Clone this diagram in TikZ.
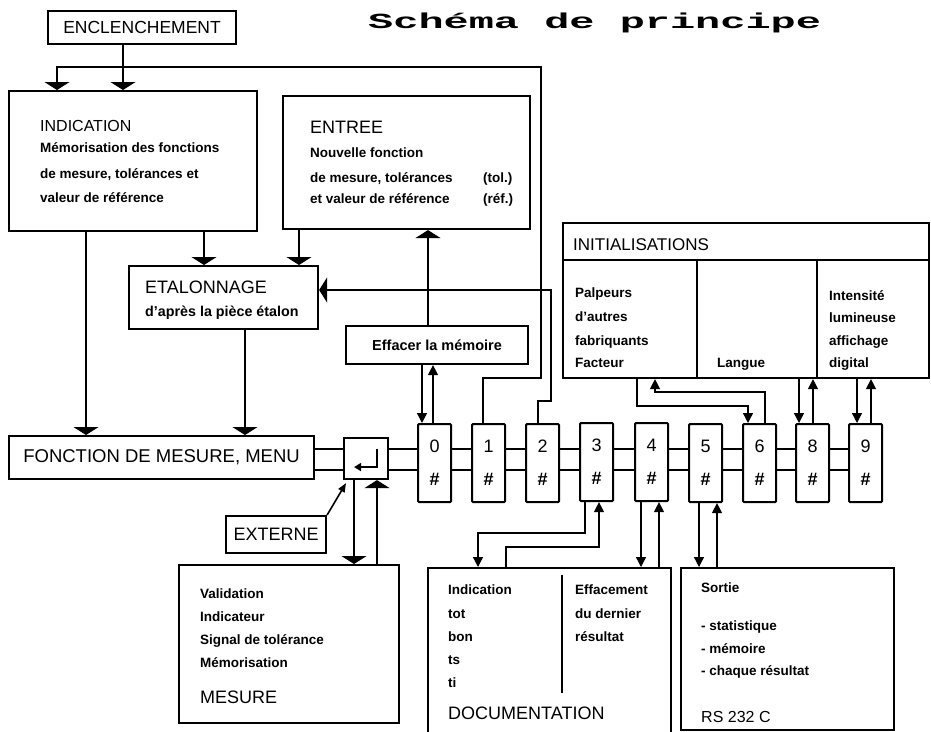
\documentclass[tikz,border=0pt]{standalone}
\usepackage{fontspec}
\setmainfont{Liberation Sans}
\newfontfamily\titlefont[FakeStretch=1.95]{Liberation Mono}
\usetikzlibrary{arrows.meta,calc}
\newcommand\bodyf{\bfseries\fontsize{13.5}{16}\selectfont}
\newcommand\capf[1]{\fontsize{#1}{#1}\selectfont}
\begin{document}
\begin{tikzpicture}[x=1pt,y=-1pt,
  box/.style={draw, line width=2.1pt, fill=white, anchor=north west, inner sep=0pt},
  keybox/.style={box, minimum width=33pt, minimum height=78pt, rounded corners=1pt, align=center,
    font=\fontsize{18}{33}\selectfont},
  wire/.style={line width=1.3pt},
  bigtip/.style={-{Triangle[width=25pt,length=8pt]}},
  smalltip/.style={-{Triangle[width=10pt,length=10pt]}},
  txt/.style={anchor=base west, inner sep=0pt, font=\bodyf},
  captxt/.style={anchor=base west, inner sep=0pt, font=\capf{18}}
]
\useasboundingbox (0,0) rectangle (931,731);

% title
\node[anchor=base west, inner sep=0pt, font=\titlefont\bfseries\fontsize{21.5}{24}\selectfont] (title) at (368,28) {Schéma de principe};

% boxes
\node[box, minimum width=188pt, minimum height=33pt, font=\capf{17.5}] (encl) at (47,10) {ENCLENCHEMENT};
\node[box, minimum width=248pt, minimum height=140pt] (indic) at (8,90) {};
\node[box, minimum width=247pt, minimum height=133pt] (entree) at (282,95) {};
\node[box, minimum width=189pt, minimum height=63pt] (etal) at (128,265) {};
\node[box, minimum width=182pt, minimum height=38pt, font=\bfseries\fontsize{14.5}{16}\selectfont] (eff) at (345,325) {Effacer la mémoire};
\node[box, minimum width=366pt, minimum height=155pt] (init) at (562,222) {};
\node[box, minimum width=305pt, minimum height=43pt, font=\capf{18.5}] (fonc) at (8,435) {FONCTION DE MESURE, MENU};
\node[box, minimum width=100pt, minimum height=37pt, font=\capf{18}] (ext) at (225,515) {EXTERNE};
\node[box, minimum width=220pt, minimum height=158pt] (mes) at (178,564) {};
\node[box, minimum width=243pt, minimum height=167pt] (doc) at (427,567) {};
\node[box, minimum width=213pt, minimum height=162pt] (rs) at (680,567) {};

% keys
\node[box, minimum width=44pt, minimum height=41pt] (enter) at (343,437) {};
\node[keybox] (k0) at (417,423) {0\\\textbf{\#}};
\node[keybox] (k1) at (471,423) {1\\\textbf{\#}};
\node[keybox] (k2) at (525,423) {2\\\textbf{\#}};
\node[keybox] (k3) at (579,422) {3\\\textbf{\#}};
\node[keybox] (k4) at (634,422) {4\\\textbf{\#}};
\node[keybox] (k5) at (688,423) {5\\\textbf{\#}};
\node[keybox] (k6) at (742,423) {6\\\textbf{\#}};
\node[keybox] (k8) at (795,423) {8\\\textbf{\#}};
\node[keybox] (k9) at (848,423) {9\\\textbf{\#}};

% bus lines
\foreach \a/\b in {fonc/enter,enter/k0,k0/k1,k1/k2,k2/k3,k3/k4,k4/k5,k5/k6,k6/k8,k8/k9}{
  \draw[wire] (\a.east |- 0,449) -- (\b.west |- 0,449);
  \draw[wire] (\a.east |- 0,470) -- (\b.west |- 0,470);
}

% enter symbol
\draw[line width=1.8pt, -{Triangle[width=8pt,length=7pt]}]
  ($(enter.center)+(11,-10)$) -- ($(enter.center)+(11,8.5)$) -- ($(enter.center)+(-12,8.5)$);

% INITIALISATIONS inner lines
\draw[line width=2.1pt] (init.west |- 0,260) -- (init.east |- 0,260);
\draw[line width=1.6pt] (697,0 |- 0,260) -- (697,0 |- init.south);
\draw[line width=1.6pt] (817,0 |- 0,260) -- (817,0 |- init.south);
% DOCUMENTATION divider
\draw[line width=1.3pt] (562,575) coordinate (dv1) -- (562,693) coordinate (dv2);

% texts
\node[anchor=base west, inner sep=0pt, font=\capf{16}] (t-indic) at (40,131) {INDICATION};
\node[txt] (t-indic1) at (40,152) {Mémorisation des fonctions};
\node[txt] (t-indic2) at (40,178) {de mesure, tolérances et};
\node[txt] (t-indic3) at (40,202) {valeur de référence};

\node[captxt] (t-entree) at (310,133) {ENTREE};
\node[txt] (t-entree1) at (310,157) {Nouvelle fonction};
\node[txt] (t-entree2) at (310,182) {de mesure, tolérances};
\node[txt] (t-entree3) at (310,203) {et valeur de référence};
\node[txt] (t-tol) at (483,182) {(tol.)};
\node[txt] (t-ref) at (483,203) {(réf.)};

\node[captxt] (t-etal) at (145,293.5) {ETALONNAGE};
\node[anchor=base west, inner sep=0pt, font=\bfseries\fontsize{14.3}{16}\selectfont] (t-etal1) at (145,316) {d'après la pièce étalon};

\node[anchor=base west, inner sep=0pt, font=\capf{17}] (t-init) at (573,250) {INITIALISATIONS};
\node[txt] (t-pal1) at (575,297) {Palpeurs};
\node[txt] (t-pal2) at (575,321) {d'autres};
\node[txt] (t-pal3) at (575,345) {fabriquants};
\node[txt] (t-pal4) at (575,367) {Facteur};
\node[txt] (t-lang) at (717,367) {Langue};
\node[txt] (t-int1) at (829,300) {Intensité};
\node[txt] (t-int2) at (829,322) {lumineuse};
\node[txt] (t-int3) at (829,345) {affichage};
\node[txt] (t-int4) at (829,367) {digital};

\node[txt] (t-mes1) at (200,598) {Validation};
\node[txt] (t-mes2) at (200,621) {Indicateur};
\node[txt] (t-mes3) at (200,644) {Signal de tolérance};
\node[txt] (t-mes4) at (200,667) {Mémorisation};
\node[captxt] (t-mes) at (200,703) {MESURE};

\node[txt] (t-doc1) at (448,594) {Indication};
\node[txt] (t-doc2) at (448,618) {tot};
\node[txt] (t-doc3) at (448,641) {bon};
\node[txt] (t-doc4) at (448,664) {ts};
\node[txt] (t-doc5) at (448,687) {ti};
\node[captxt] (t-doc) at (448,719.5) {DOCUMENTATION};
\node[txt] (t-eff1) at (575,594) {Effacement};
\node[txt] (t-eff2) at (575,618) {du dernier};
\node[txt] (t-eff3) at (575,641) {résultat};

\node[txt] (t-rs1) at (701,592) {Sortie};
\node[txt] (t-rs2) at (701,630) {- statistique};
\node[txt] (t-rs3) at (701,653) {- mémoire};
\node[txt] (t-rs4) at (701,675) {- chaque résultat};
\node[anchor=base west, inner sep=0pt, font=\capf{16}] (t-rs) at (701,722) {RS 232 C};

% connectors: top part
\draw[wire,bigtip] (123,0 |- encl.south) -- (123,0 |- indic.north);
\draw[wire,bigtip] (483,0 |- k1.north) -- (483,378) -- (541,378) -- (541,67) -- (57,67) -- (57,0 |- indic.north);
\draw[wire,bigtip] (86,0 |- indic.south) -- (86,0 |- fonc.north);
\draw[wire,bigtip] (245,0 |- etal.south) -- (245,0 |- fonc.north);
\draw[wire,bigtip] (204,0 |- indic.south) -- (204,0 |- etal.north);
\draw[wire,bigtip] (299,0 |- entree.south) -- (299,0 |- etal.north);
\draw[wire,bigtip] (538,0 |- k2.north) -- (538,401) -- (551,401) -- (551,290) -- (etal.east |- 0,290);
\draw[wire,bigtip] (428,0 |- eff.north) -- (428,0 |- entree.south);
\draw[wire,smalltip] (422,0 |- eff.south) -- (422,0 |- k0.north);
\draw[wire,smalltip] (433,0 |- k0.north) -- (433,0 |- eff.south);

% enter / mesure / externe
\draw[wire,bigtip] (354,0 |- enter.south) -- (354,0 |- mes.north);
\draw[wire,bigtip] (377,0 |- mes.north) -- (377,0 |- enter.south);
\draw[line width=1.6pt, -{Triangle[width=7pt,length=9pt]}] (ext.north east) -- ($(enter.south west)+(3,3)$);

% lower keys
\draw[wire,smalltip] (585,0 |- k3.south) -- (585,533) -- (478,533) -- (478,0 |- doc.north);
\draw[wire,smalltip] (506,0 |- doc.north) -- (506,547) -- (599,547) -- (599,0 |- k3.south);
\draw[wire,smalltip] (641,0 |- k4.south) -- (641,0 |- doc.north);
\draw[wire,smalltip] (659,0 |- doc.north) -- (659,0 |- k4.south);
\draw[wire,smalltip] (699,0 |- k5.south) -- (699,0 |- rs.north);
\draw[wire,smalltip] (717,0 |- rs.north) -- (717,0 |- k5.south);

% initialisations keys
\draw[wire,smalltip] (637,0 |- init.south) -- (637,406) -- (748,406) -- (748,0 |- k6.north);
\draw[wire,smalltip] (765,0 |- k6.north) -- (765,392) -- (655,392) -- (655,0 |- init.south);
\draw[wire,smalltip] (799,0 |- init.south) -- (799,0 |- k8.north);
\draw[wire,smalltip] (813,0 |- k8.north) -- (813,0 |- init.south);
\draw[wire,smalltip] (857,0 |- init.south) -- (857,0 |- k9.north);
\draw[wire,smalltip] (871,0 |- k9.north) -- (871,0 |- init.south);
\end{tikzpicture}
\end{document}
